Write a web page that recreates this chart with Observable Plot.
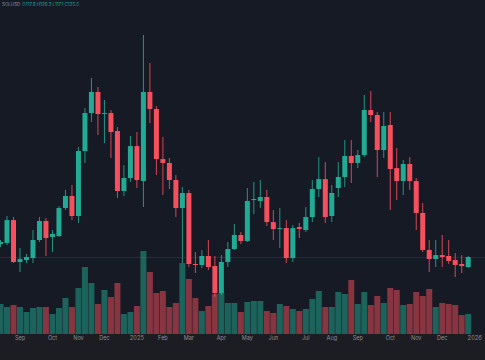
<!DOCTYPE html>
<html>
<head>
<meta charset="utf-8">
<script src="https://cdn.jsdelivr.net/npm/d3@7"></script>
<script src="https://cdn.jsdelivr.net/npm/@observablehq/plot@0.6"></script>
<style>
  body { margin: 0; background: #161a25; }
  #wrap { position: relative; width: 485px; height: 360px; background: #161a25; overflow: hidden; }
  #wrap svg { position: absolute; left: 0; top: 0; }
  #strip { position: absolute; left: 0; top: 334px; width: 485px; height: 26px; background: #1c1d22; }
  #legend { position: absolute; left: 2px; top: 2px; font: 4.5px Inter, "DejaVu Sans", sans-serif; white-space: nowrap; z-index: 5; }
  #legend .sym { color: #8f939c; }
  #legend .ohlc { color: #22ab94; margin-left: 2px; }
</style>
</head>
<body>
<div id="wrap">
  <div id="strip"></div>
  <div id="legend"><span class="sym">SOLUSD</span><span class="ohlc" id="ohlc"></span></div>
</div>
<script>
// Weekly candles, SOL / USD, week starting Mondays
const firstWeek = "2024-08-05";
const lastWeek = "2025-12-22";

const open = [135.4,136.2,153.7,121.7,123.2,124.7,138.5,153.0,140.8,141.5,162.9,172.1,156.8,206.4,235.4,251.5,234.7,235.4,221.7,175.9,185.8,210.2,183.5,251.5,238.5,200.3,197.3,184.3,162.9,174.4,120.2,119.4,126.3,118.6,98.0,121.7,131.6,142.3,137.7,169.0,168.3,171.3,152.2,146.9,147.6,124.7,148.4,146.1,156.0,177.4,185.0,156.8,178.2,186.6,202.6,197.3,203.4,237.7,233.9,207.2,226.3,193.4,183.5,196.5,183.5,159.1,130.9,124.0,127.0,126.3,123.2,120.2,117.9];
const high = [138.5,156.8,156.0,132.4,127.8,146.1,156.0,155.3,146.1,164.4,176.7,180.5,209.5,239.3,262.2,255.3,245.4,237.7,224.7,195.7,217.9,220.9,295.0,273.6,240.8,217.1,201.1,188.1,178.9,176.7,129.3,130.9,138.5,126.3,127.0,137.0,150.7,144.6,178.2,182.8,184.3,176.7,161.4,162.9,153.7,149.9,151.5,163.7,184.3,201.8,198.0,180.5,198.0,214.8,214.8,207.2,249.2,252.2,236.2,236.2,236.2,208.7,199.6,201.8,185.8,166.7,138.5,138.5,142.3,138.5,128.6,127.0,126.3];
const low = [133.1,134.7,120.9,114.1,120.9,120.9,137.0,126.3,129.3,140.8,161.4,153.7,151.5,197.3,228.6,218.6,212.5,201.1,170.5,172.1,182.8,178.2,163.7,227.8,188.1,172.8,177.4,156.0,120.9,117.9,113.3,117.1,115.6,95.0,96.5,117.9,130.9,135.4,137.0,158.3,162.9,149.2,138.5,132.4,120.9,121.7,140.0,144.6,152.2,171.3,151.5,152.2,171.3,178.9,182.0,193.4,201.8,228.6,186.6,201.1,161.4,169.0,172.8,176.7,146.1,129.3,114.1,117.9,117.9,120.2,110.2,113.3,117.1];
const close = [137.0,153.7,121.7,124.0,125.5,138.5,153.0,140.0,143.1,162.9,172.1,156.8,206.4,235.4,251.5,234.7,235.4,220.9,175.9,185.8,210.2,184.3,251.5,238.5,200.3,197.3,184.3,162.9,174.4,120.2,119.4,126.3,117.9,98.0,121.7,131.6,142.3,137.7,168.3,169.8,171.3,152.2,146.9,147.6,124.7,147.6,146.9,156.0,177.4,185.0,156.0,174.4,186.6,202.6,197.3,203.4,237.7,233.9,207.2,225.5,192.7,183.5,196.5,183.5,159.1,130.9,124.0,127.0,125.5,122.5,119.4,118.6,125.5];
const volume = [30,27,29,27,22,26,27,27,20,26,36,27,46,67,51,30,44,37,51,20,22,28,83,62,41,43,27,31,71,55,36,23,28,40,41,31,31,22,32,33,33,23,21,30,28,25,23,25,35,43,27,27,42,40,54,30,42,29,38,31,46,44,29,30,42,38,45,27,31,30,29,19,20];

// Time-axis labels and the weekly bar each one sits on
const tickLabels = ["Sep","Oct","Nov","Dec","2025","Feb","Mar","Apr","May","Jun","Jul","Aug","Sep","Oct","Nov","Dec","2026"];
const tickWeeks = ["2024-08-26","2024-09-30","2024-10-28","2024-11-25","2024-12-30","2025-01-27","2025-02-24","2025-03-31","2025-04-28","2025-05-26","2025-06-30","2025-07-28","2025-08-25","2025-09-29","2025-10-27","2025-11-24","2025-12-29"];

const UP = "#22ab94", DOWN = "#f5505d";

const weeks = d3.utcMonday.range(new Date(firstWeek), d3.utcDay.offset(new Date(lastWeek), 1));
const data = weeks.map((date, i) => ({
  date, open: open[i], high: high[i], low: low[i], close: close[i], volume: volume[i],
  up: close[i] >= open[i]
}));
const ticks = tickWeeks.map(s => new Date(s));
const tickText = new Map(ticks.map((d, i) => [+d, tickLabels[i]]));
const last = data[data.length - 1];

const W = 485, H = 360;
const xScale = {type: "utc", domain: [new Date("2024-08-05"), new Date("2025-12-29")], range: [0, 474.2]};
const baseStyle = {background: "transparent", fontFamily: "Inter, 'DejaVu Sans', sans-serif", fontSize: "5.5px", color: "#8d909a"};

const volPlot = Plot.plot({
  width: W, height: H, margin: 0,
  style: baseStyle,
  x: {...xScale, axis: null},
  y: {domain: [0, 100], range: [334, 234], axis: null},
  marks: [
    Plot.ruleX(data, {x: "date", y1: 0, y2: "volume", stroke: d => d.up ? UP : DOWN, strokeOpacity: 0.5, strokeWidth: 6})
  ]
});

const pricePlot = Plot.plot({
  width: W, height: H, marginTop: 0, marginLeft: 0, marginRight: 0, marginBottom: 26,
  style: baseStyle,
  x: {...xScale},
  y: {domain: [46.9, 321.7], range: [360, 0], axis: null},
  marks: [
    Plot.ruleY([last.close], {stroke: UP, strokeOpacity: 0.25, strokeWidth: 0.8}),
    Plot.ruleX(data, {x: "date", y1: "low", y2: "high", stroke: d => d.up ? UP : DOWN, strokeWidth: 1, strokeOpacity: 0.85}),
    Plot.ruleX(data, {x: "date", y1: "open", y2: d => Math.abs(d.close - d.open) < 0.6 ? d.open + (d.up ? 0.6 : -0.6) : d.close, stroke: d => d.up ? UP : DOWN, strokeWidth: 5}),
    Plot.axisX({ticks, tickFormat: d => tickText.get(+d), tickSize: 0, tickPadding: 2, anchor: "bottom", label: null, fill: "#8d909a"})
  ]
});

const wrap = document.getElementById("wrap");
wrap.appendChild(volPlot);
wrap.appendChild(pricePlot);
document.getElementById("ohlc").textContent =
  `O${last.open.toFixed(1)} H${last.high.toFixed(1)} L${last.low.toFixed(1)} C${last.close.toFixed(1)}`;
</script>
</body>
</html>
